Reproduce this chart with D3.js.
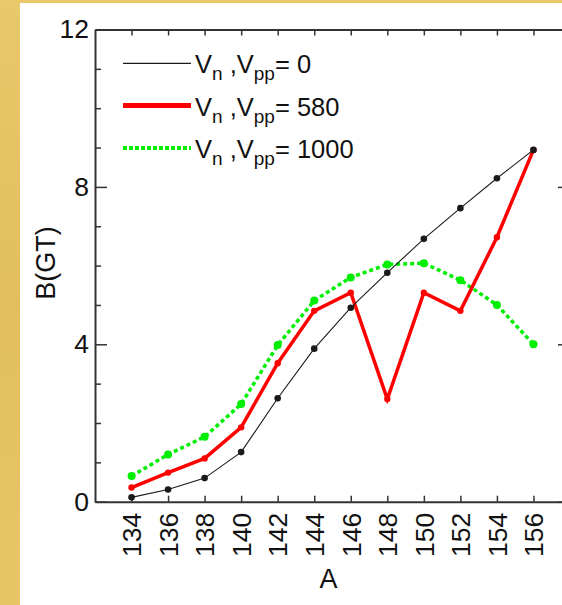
<!DOCTYPE html>
<html>
<head>
<meta charset="utf-8">
<script src="https://cdn.jsdelivr.net/npm/d3@7"></script>
<style>
  body { margin: 0; background: #e6c462; }
  svg { display: block; }
  text { font-family: "Liberation Sans", Arial, sans-serif; fill: #111; }
</style>
</head>
<body>
<div id="chart"></div>
<script>
// =======================
// B(GT) vs A for three V values
// =======================

// Data
const massNumbers = [134, 136, 138, 140, 142, 144, 146, 148, 150, 152, 154, 156];
const bV0    = [0.11, 0.31, 0.60, 1.26, 2.63, 3.89, 4.93, 5.82, 6.68, 7.46, 8.22, 8.94];
const bV580  = [0.36, 0.74, 1.10, 1.89, 3.52, 4.85, 5.31, 2.61, 5.31, 4.85, 6.72, 8.94];
const bV1000 = [0.65, 1.20, 1.65, 2.48, 3.98, 5.11, 5.70, 6.03, 6.06, 5.63, 5.00, 4.00];
const seriesLabels = ["0", "580", "1000"];
const yMajorTicks = [0, 4, 8, 12];
const yMinorTicks = [1, 2, 3, 5, 6, 7, 9, 10, 11];

// Chart dimensions
const width = 562, height = 605;
const margin = { top: 29.5, right: -8, bottom: 103.3, left: 95 };
const plotW = width - margin.left - margin.right,
      plotH = height - margin.top - margin.bottom;

const svg = d3.select("#chart")
  .append("svg")
    .attr("width", width)
    .attr("height", height);

// Gold backdrop and white panel
const grad = svg.append("defs").append("linearGradient")
    .attr("id", "gold")
    .attr("x1", "0").attr("y1", "0").attr("x2", "0").attr("y2", "1");
grad.append("stop").attr("offset", "0%").attr("stop-color", "#e9c86a");
grad.append("stop").attr("offset", "50%").attr("stop-color", "#e2bf5c");
grad.append("stop").attr("offset", "100%").attr("stop-color", "#e8c666");

svg.append("rect")
  .attr("width", width).attr("height", height)
  .attr("fill", "url(#gold)");

svg.append("rect")
  .attr("x", 20).attr("y", 3)
  .attr("width", width - 20).attr("height", height - 3)
  .attr("fill", "#fff");

const g = svg.append("g")
  .attr("transform", `translate(${margin.left},${margin.top})`);

// Scales
const x = d3.scaleLinear().domain([132, 158]).range([0, plotW]);
const y = d3.scaleLinear().domain([0, 12]).range([plotH, 0]);

const axisColor = "#333";

// Bottom axis: ticks pointing inward, rotated labels
const xBottom = g.append("g")
  .attr("transform", `translate(0,${plotH})`)
  .call(d3.axisBottom(x).tickValues(massNumbers).tickSizeInner(-6).tickSizeOuter(0).tickPadding(11));
xBottom.select(".domain").attr("stroke", axisColor).attr("stroke-width", 2);
xBottom.selectAll(".tick line").attr("stroke", axisColor).attr("stroke-width", 1.5);
xBottom.selectAll(".tick text")
  .attr("transform", "rotate(-90)")
  .attr("x", -11).attr("y", 0).attr("dy", "0.35em")
  .attr("text-anchor", "end")
  .style("font-size", "26.5px");

// Top axis: ticks only
const xTop = g.append("g")
  .call(d3.axisTop(x).tickValues(massNumbers).tickSizeInner(-6).tickSizeOuter(0).tickFormat(""));
xTop.select(".domain").attr("stroke", axisColor).attr("stroke-width", 2);
xTop.selectAll(".tick line").attr("stroke", axisColor).attr("stroke-width", 1.5);

// Left axis: major with labels, minor without
const yLeft = g.append("g")
  .call(d3.axisLeft(y).tickValues(yMajorTicks).tickSizeInner(-12).tickSizeOuter(0).tickPadding(5));
yLeft.select(".domain").attr("stroke", axisColor).attr("stroke-width", 2);
yLeft.selectAll(".tick line").attr("stroke", axisColor).attr("stroke-width", 1.5);
yLeft.selectAll(".tick text")
  .attr("x", -6)
  .style("font-size", "26.5px");

const yLeftMinor = g.append("g")
  .call(d3.axisLeft(y).tickValues(yMinorTicks).tickSizeInner(-6).tickSizeOuter(0).tickFormat(""));
yLeftMinor.select(".domain").remove();
yLeftMinor.selectAll(".tick line").attr("stroke", axisColor).attr("stroke-width", 1.5);

// Right axis (mostly off the edge)
const yRight = g.append("g")
  .attr("transform", `translate(${plotW},0)`)
  .call(d3.axisRight(y).tickValues(yMajorTicks).tickSizeInner(-12).tickSizeOuter(0).tickFormat(""));
yRight.select(".domain").attr("stroke", axisColor).attr("stroke-width", 2);
yRight.selectAll(".tick line").attr("stroke", axisColor).attr("stroke-width", 1.5);

// Axis titles
g.append("text")
  .attr("x", plotW / 2 - 4)
  .attr("y", plotH + 86)
  .attr("text-anchor", "middle")
  .style("font-size", "27px")
  .text("A");

g.append("text")
  .attr("transform", "rotate(-90)")
  .attr("x", -(263 - margin.top))
  .attr("y", 55 - margin.left)
  .attr("text-anchor", "middle")
  .style("font-size", "27px")
  .text("B(GT)");

// Series
const series = [
  { label: seriesLabels[2], values: bV1000, color: "#00ee00", width: 3.5, dash: "4,3", r: 4 },
  { label: seriesLabels[1], values: bV580,  color: "#ff0000", width: 3.5, dash: null,  r: 3.2 },
  { label: seriesLabels[0], values: bV0,    color: "#1a1a1a", width: 1.1, dash: null,  r: 3.3 }
];

const line = d3.line()
  .x(d => x(d.a))
  .y(d => y(d.b));

series.forEach(s => {
  const pts = massNumbers.map((a, i) => ({ a: a, b: s.values[i] }));

  g.append("path")
    .datum(pts)
    .attr("fill", "none")
    .attr("stroke", s.color)
    .attr("stroke-width", s.width)
    .attr("stroke-dasharray", s.dash)
    .attr("d", line);

  g.append("g").selectAll("circle")
    .data(pts)
    .enter()
    .append("circle")
      .attr("cx", d => x(d.a))
      .attr("cy", d => y(d.b))
      .attr("r", s.r)
      .attr("fill", s.color);
});

// Legend
const legend = svg.append("g");
const legendRows = [series[2], series[1], series[0]];
legendRows.forEach((s, i) => {
  const ly = 63.3 + i * 42.3;
  legend.append("line")
    .attr("x1", 123).attr("x2", 191)
    .attr("y1", ly).attr("y2", ly)
    .attr("stroke", s.color)
    .attr("stroke-width", i === 1 ? 5 : (i === 2 ? 4 : 1.3))
    .attr("stroke-dasharray", i === 2 ? "4,2" : null);

  const t = legend.append("text")
    .attr("x", 195)
    .attr("y", ly + 10)
    .style("font-size", "25.5px");
  t.append("tspan").text("V");
  t.append("tspan").attr("dy", 7).style("font-size", "19px").text("n");
  t.append("tspan").attr("dy", -7).text(" ,V");
  t.append("tspan").attr("dy", 7).style("font-size", "19px").text("pp");
  t.append("tspan").attr("dy", -7).text("= " + s.label);
});
</script>
</body>
</html>
